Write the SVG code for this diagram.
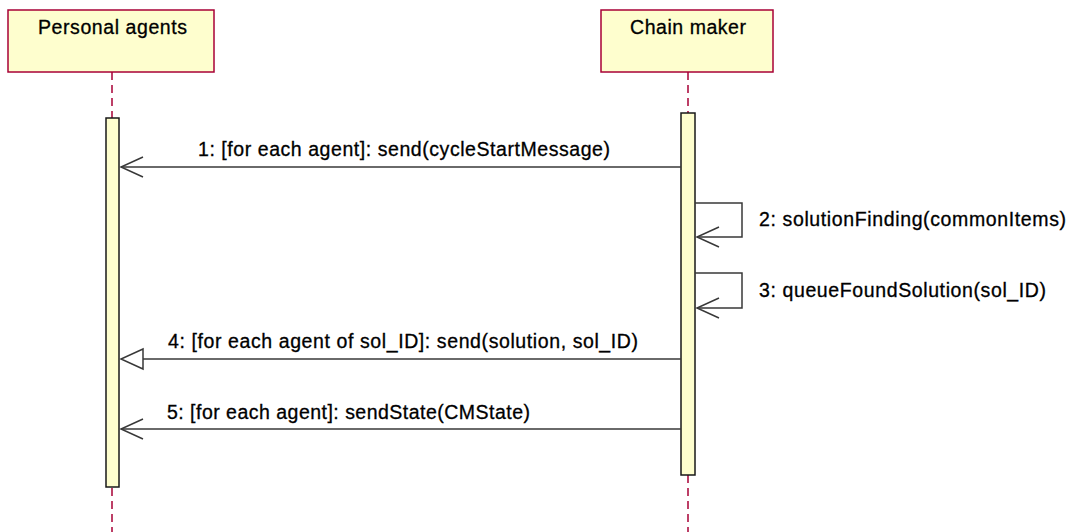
<svg xmlns="http://www.w3.org/2000/svg" width="1073" height="532" viewBox="0 0 1073 532">
  <style>
    .head { fill: #FEFECE; stroke: #A80036; stroke-width: 1.5; }
    .life { stroke: #A80036; stroke-width: 1.5; stroke-dasharray: 8 5; fill: none; }
    .act { fill: #FEFECE; stroke: #181818; stroke-width: 1.5; }
    .msg { stroke: #383838; stroke-width: 1.5; fill: none; }
    .label { font-family: "Liberation Sans", Arial, sans-serif; font-size: 19.5px; fill: #000000; stroke: #000000; stroke-width: 0.3; }
  </style>
  <rect width="1073" height="532" fill="#FFFFFF"/>

  <g id="personal-agents">
    <line class="life" x1="112" y1="72" x2="112" y2="532"/>
    <rect class="head" x="8" y="10" width="206" height="62"/>
    <text class="label" x="38" y="34" textLength="149" lengthAdjust="spacing">Personal agents</text>
    <rect class="act" x="106" y="118" width="13" height="369"/>
  </g>

  <g id="chain-maker">
    <line class="life" x1="688" y1="72" x2="688" y2="532"/>
    <rect class="head" x="601" y="10" width="172" height="62"/>
    <text class="label" x="630" y="34" textLength="116" lengthAdjust="spacing">Chain maker</text>
    <rect class="act" x="681" y="113" width="14" height="362"/>
  </g>

  <g id="messages">
    <!-- 1: open arrow to personal agents -->
    <line class="msg" x1="681" y1="167" x2="121" y2="167"/>
    <polyline class="msg" points="143,157 121,167 143,177"/>
    <text class="label" x="198" y="156" textLength="412" lengthAdjust="spacing">1: [for each agent]: send(cycleStartMessage)</text>

    <!-- 2: self call -->
    <polyline class="msg" points="695,203 742,203 742,237 697,237"/>
    <polyline class="msg" points="719,227 697,237 719,247"/>
    <text class="label" x="759" y="226" textLength="307" lengthAdjust="spacing">2: solutionFinding(commonItems)</text>

    <!-- 3: self call -->
    <polyline class="msg" points="695,273 742,273 742,308 697,308"/>
    <polyline class="msg" points="719,298 697,308 719,318"/>
    <text class="label" x="759" y="297" textLength="287" lengthAdjust="spacing">3: queueFoundSolution(sol_ID)</text>

    <!-- 4: hollow triangle head -->
    <line class="msg" x1="681" y1="359" x2="143" y2="359"/>
    <polygon class="msg" points="143,349 121,359 143,369"/>
    <text class="label" x="168" y="348" textLength="470" lengthAdjust="spacing">4: [for each agent of sol_ID]: send(solution, sol_ID)</text>

    <!-- 5: open arrow -->
    <line class="msg" x1="681" y1="429" x2="121" y2="429"/>
    <polyline class="msg" points="143,419 121,429 143,439"/>
    <text class="label" x="167" y="419" textLength="363" lengthAdjust="spacing">5: [for each agent]: sendState(CMState)</text>
  </g>
</svg>
